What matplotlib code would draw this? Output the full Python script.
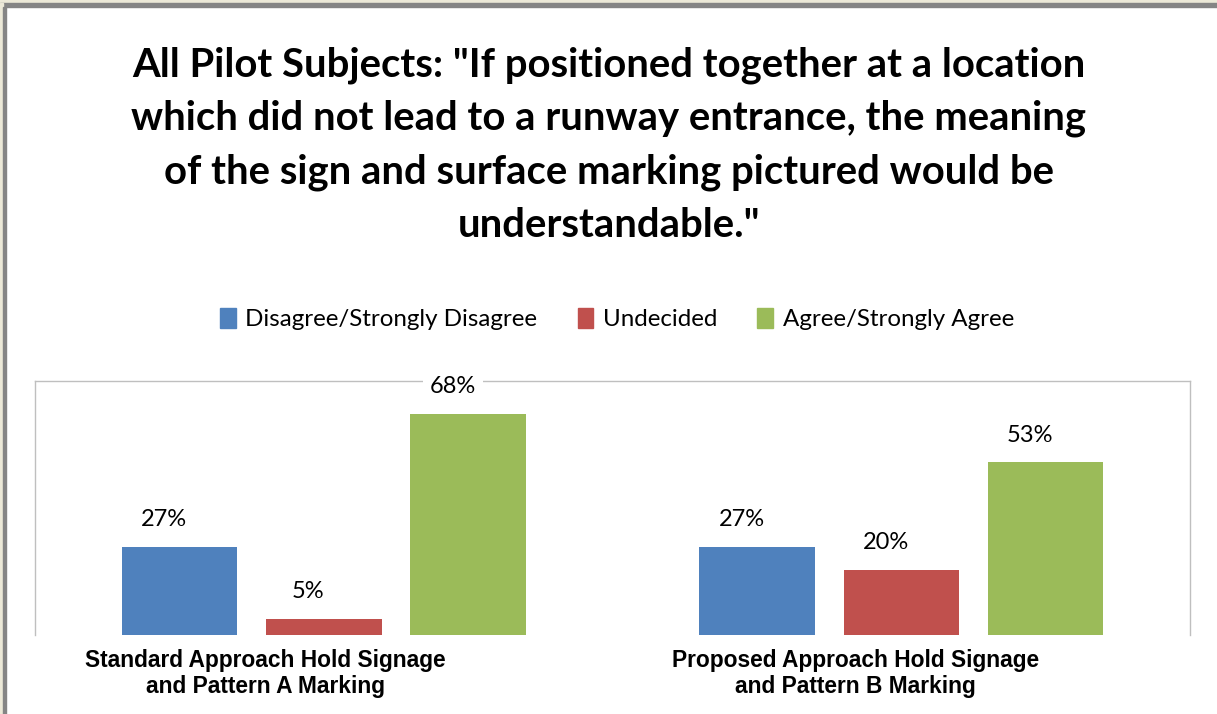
import numpy as np
import matplotlib.pyplot as plt
from matplotlib.patches import Rectangle, Patch
from matplotlib.transforms import ScaledTranslation

# survey responses, percent of pilot subjects
groups = ['Standard Approach Hold Signage\nand Pattern A Marking',
          'Proposed Approach Hold Signage\nand Pattern B Marking']
responses = ['Disagree/Strongly Disagree', 'Undecided', 'Agree/Strongly Agree']
disagree = [27, 27]
undecided = [5, 20]
agree = [68, 53]

colors = ['#4F81BD', '#C0504D', '#9BBB59']
title = ('All Pilot Subjects: "If positioned together at a location\n'
         'which did not lead to a runway entrance, the meaning\n'
         'of the sign and surface marking pictured would be\n'
         'understandable."')

fig = plt.figure(figsize=(12.17, 7.14), dpi=100)
fig.patch.set_facecolor('white')

# window frame along top and left edge
fig.patches.append(Rectangle((0, 1 - 3/714), 1, 3/714, transform=fig.transFigure,
                             color='#ECE9D8', zorder=0))
fig.patches.append(Rectangle((0, 1 - 7/714), 1, 4/714, transform=fig.transFigure,
                             color='#858585', zorder=0))
fig.patches.append(Rectangle((0, 0), 3/1217, 1 - 3/714, transform=fig.transFigure,
                             color='#ECE9D8', zorder=0))
fig.patches.append(Rectangle((3/1217, 0), 3/1217, 1 - 7/714, transform=fig.transFigure,
                             color='#858585', zorder=0))

fig.text(0.5, 0.797, title, ha='center', va='center', fontsize=28.8,
         fontweight='bold', family='Lato', linespacing=1.53)

ax = fig.add_axes([35/1217, 79/714, 1155/1217, 254/714])
x = np.arange(len(groups))
width = 0.2
series = [disagree, undecided, agree]
for i, vals in enumerate(series):
    bars = ax.bar(x + (i - 1) * 0.25, vals, width, color=colors[i], zorder=2)
    for b, v in zip(bars, vals):
        ax.annotate(f'{v}%', (b.get_x() + b.get_width() / 2, v),
                    xytext=(-11, 12), textcoords='offset points',
                    ha='center', va='bottom', fontsize=17, family='Lato',
                    bbox=dict(boxstyle='square,pad=0.3', fc='white', ec='none'),
                    annotation_clip=False, zorder=3)

ax.set_xlim(-0.5, 1.5)
ax.set_ylim(0, 78)
ax.set_yticks([])
ax.set_xticks(x)
ax.set_xticklabels(groups, fontsize=16.4, fontweight='bold',
                   family='Liberation Sans', linespacing=1.2)
ax.tick_params(axis='x', length=0, pad=9.8)
for lab, dx in zip(ax.get_xticklabels(), [-0.58, -0.46]):
    lab.set_multialignment('center')
    lab.set_transform(lab.get_transform() + ScaledTranslation(dx, 0, fig.dpi_scale_trans))
for side in ['top', 'left', 'right']:
    ax.spines[side].set_color('#BFBFBF')
    ax.spines[side].set_linewidth(1.0)
ax.spines['bottom'].set_visible(False)

handles = [Patch(color=c) for c in colors]
fig.legend(handles, responses, loc='center', bbox_to_anchor=(0.507, 0.553), ncol=3,
           frameon=False, handlelength=0.65, handleheight=0.9, handletextpad=0.4,
           columnspacing=1.66, prop={'family': 'Lato', 'size': 17.4})

fig.savefig('out.png', dpi=100)
